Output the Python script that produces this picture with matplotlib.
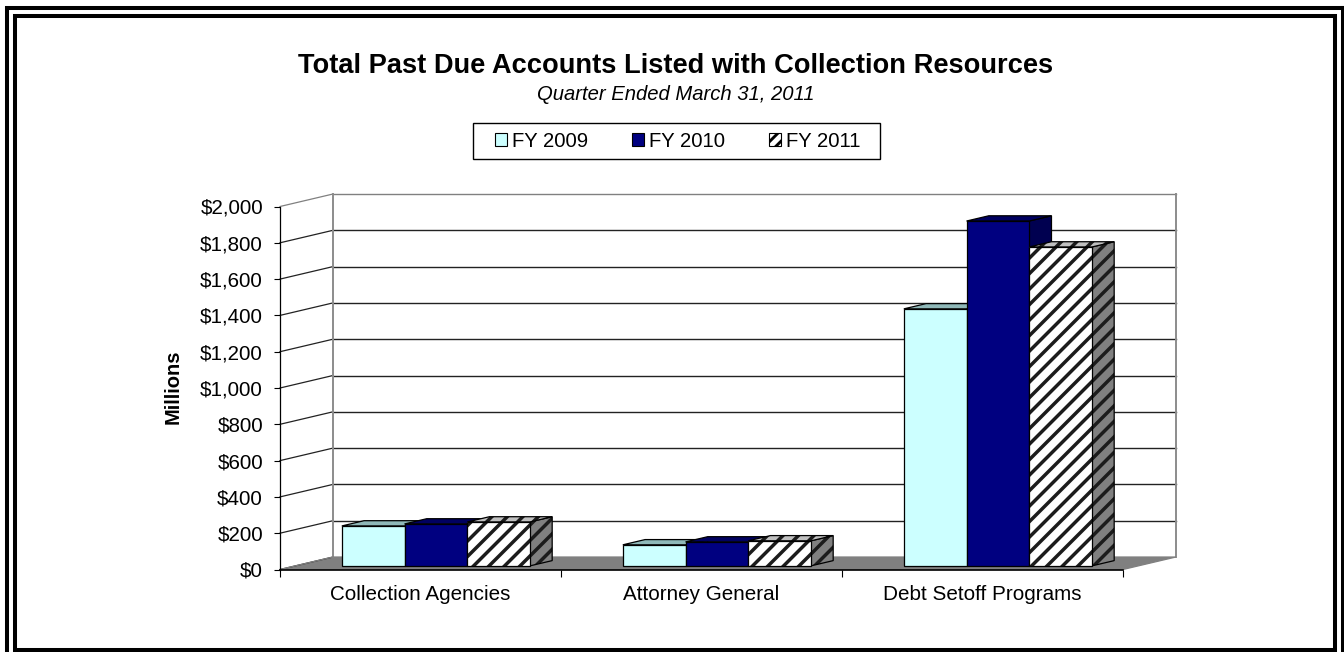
import matplotlib
matplotlib.use('Agg')
import matplotlib.pyplot as plt
from matplotlib.collections import LineCollection
from matplotlib.lines import Line2D
from matplotlib.patches import Patch, Polygon, Rectangle
from matplotlib.ticker import FuncFormatter
from matplotlib.transforms import IdentityTransform

plt.rcParams['font.family'] = ['Liberation Sans', 'DejaVu Sans']
plt.rcParams['hatch.linewidth'] = 2.1

# Past due accounts, in millions of dollars
categories = ['Collection Agencies', 'Attorney General', 'Debt Setoff Programs']
series_names = ['FY 2009', 'FY 2010', 'FY 2011']
fy2009 = [220, 116, 1416]
fy2010 = [231, 132, 1900]
fy2011 = [242, 138, 1757]
y_ticks = list(range(0, 2001, 200))

W, H = 1344, 652
fig = plt.figure(figsize=(W / 100, H / 100), dpi=100, facecolor='white')
ax = fig.add_axes([280 / W, (H - 569.5) / H, 843 / W, 363 / H])
ax.set_xlim(0, 3)
ax.set_ylim(0, 2000)
ax.set_facecolor('none')

# Depth of the 3D box, in data units
DX = 53 / 281
DY = 12.5 * 2000 / 363
STRIPE_STEP = 15.5  # pixels between diagonal stripes


def proj(x, y, d):
    return (x + d * DX, y + d * DY)


def face(points, color, edge='black', z=3, lw=0.9, striped=False):
    ax.add_patch(Polygon(points, closed=True, facecolor=color, edgecolor='none',
                         clip_on=False, zorder=z))
    if striped:
        # diagonal stripes in pixel space, clipped to the face
        px = ax.transData.transform(points)
        lo = (px[:, 0] - px[:, 1]).min()
        hi = (px[:, 0] - px[:, 1]).max()
        k = int(lo // STRIPE_STEP)
        segs = []
        while k * STRIPE_STEP <= hi:
            c = k * STRIPE_STEP
            segs.append([(c, 0), (c + H, H)])
            k += 1
        lc = LineCollection(segs, colors='#1c1c1c', linewidths=2.5,
                            transform=IdentityTransform(), zorder=z + 0.001)
        ax.add_collection(lc, autolim=False)
        lc.set_clip_path(Polygon(points, closed=True, transform=ax.transData))
    ax.add_patch(Polygon(points, closed=True, fill=False, edgecolor=edge, linewidth=lw,
                         clip_on=False, zorder=z + 0.002))


# Floor and back wall
face([proj(0, 0, 0), proj(0, 0, 1), proj(3, 0, 1), proj(3, 0, 0)], '#808080', edge='#808080', z=1)
for t in y_ticks:
    grid_color = '#808080' if t == 2000 else '#222222'
    ax.plot([0, DX], [t, t + DY], color=grid_color, lw=0.9, clip_on=False, zorder=1)
    if t > 0:
        ax.plot([DX, 3 + DX], [t + DY, t + DY], color=grid_color, lw=1.0, clip_on=False, zorder=1)
ax.plot([DX, DX], [DY, 2000 + DY], color='#8c8c8c', lw=1.4, clip_on=False, zorder=1)
ax.plot([3 + DX, 3 + DX], [DY, 2000 + DY], color='#8c8c8c', lw=1.4, clip_on=False, zorder=1)

# Bars
bar_w = 62.7 / 281
d0, d1 = 0.29, 0.71
styles = [
    dict(front='#CCFFFF', side='#99BFBF', top='#8FB8B8', striped=False),
    dict(front='#000080', side='#000050', top='#000060', striped=False),
    dict(front='white', side='#808080', top='#C0C0C0', striped=True),
]
for c in range(len(categories)):
    for s, values in enumerate([fy2009, fy2010, fy2011]):
        st = styles[s]
        v = values[c]
        x0 = c + 0.5 - 1.5 * bar_w + s * bar_w
        x1 = x0 + bar_w
        z = 3 + 0.1 * s
        face([proj(x1, 0, d0), proj(x1, 0, d1), proj(x1, v, d1), proj(x1, v, d0)],
             st['side'], striped=st['striped'], z=z)
        face([proj(x0, v, d0), proj(x0, v, d1), proj(x1, v, d1), proj(x1, v, d0)],
             st['top'], striped=st['striped'], z=z + 0.01)
        face([proj(x0, 0, d0), proj(x0, v, d0), proj(x1, v, d0), proj(x1, 0, d0)],
             st['front'], striped=st['striped'], z=z + 0.02)

# Axes
for side in ['top', 'right']:
    ax.spines[side].set_visible(False)
ax.spines['left'].set_linewidth(0.9)
ax.spines['bottom'].set_linewidth(1.2)
ax.set_yticks(y_ticks)
ax.yaxis.set_major_formatter(FuncFormatter(lambda v, p: '${:,.0f}'.format(v)))
ax.set_xticks([0, 1, 2, 3])
ax.set_xticklabels([])
ax.set_xticks([0.5, 1.5, 2.5], minor=True)
ax.set_xticklabels(categories, minor=True)
ax.tick_params(axis='x', which='major', length=5, width=0.8)
ax.tick_params(axis='x', which='minor', length=0, pad=11.5, labelsize=14.85)
ax.tick_params(axis='y', length=4.3, width=0.8, pad=8, labelsize=14.85)

fig.text(173 / W, 1 - 387 / H, 'Millions', rotation=90, fontsize=14.5, fontweight='bold',
         ha='center', va='center')
fig.text(675.5 / W, 1 - 66 / H, 'Total Past Due Accounts Listed with Collection Resources',
         fontsize=19.65, fontweight='bold', ha='center', va='center')
fig.text(675.5 / W, 1 - 95 / H, 'Quarter Ended March 31, 2011', fontsize=14.6, style='italic',
         ha='center', va='center')

# Legend
fig.add_artist(Rectangle((473 / W, 1 - 159 / H), 407 / W, 36 / H, transform=fig.transFigure,
                         facecolor='white', edgecolor='black', linewidth=1.0))
legend_hatch = [None, None, '///']
handles = [Patch(facecolor=st['front'], edgecolor='black', hatch=h, linewidth=0.8, label=n)
           for st, h, n in zip(styles, legend_hatch, series_names)]
leg = fig.legend(handles=handles, loc='center', bbox_to_anchor=(677.5 / W, 1 - 141.5 / H), ncol=3,
                 frameon=False, fontsize=14.6, handlelength=0.6, handleheight=0.6,
                 handletextpad=0.25, columnspacing=2.15, borderpad=0, borderaxespad=0)

# Double page border
fig.add_artist(Rectangle((7 / W, -0.02), (W + 20) / W, 1.0 - 8 / H + 0.02, transform=fig.transFigure,
                         fill=False, edgecolor='black', linewidth=2.9))
fig.add_artist(Rectangle((15 / W, 1 - 650 / H), 1320 / W, 634 / H, transform=fig.transFigure,
                         fill=False, edgecolor='black', linewidth=2.9))
# right edge of the outer border sits inside the canvas
fig.add_artist(Line2D([1343 / W, 1343 / W], [0, 1 - 8 / H], transform=fig.transFigure,
                      color='black', linewidth=2.9))

fig.savefig('out.png', dpi=100)
